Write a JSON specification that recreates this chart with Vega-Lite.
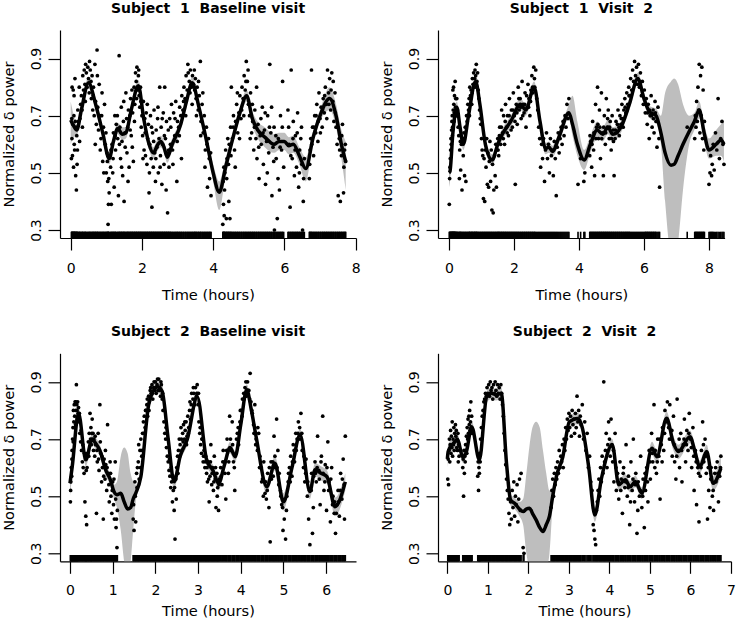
{
"$schema":"https://vega.github.io/schema/vega-lite/v6.json",
"padding":{"left":1,"top":2,"right":0,"bottom":0},
"config":{
"view":{"stroke":null},
"font":"DejaVu Sans",
"axis":{"grid":false,"domainColor":"#000","tickColor":"#000","labelColor":"#000","titleColor":"#000","labelFont":"DejaVu Sans","titleFont":"DejaVu Sans","labelFontSize":14,"titleFontSize":14.6,"titleFontWeight":"normal","tickSize":12,"domainWidth":1.2,"tickWidth":1.2,"labelOverlap":false,"labelFlush":false},
"axisX":{"labelPadding":22,"labelBaseline":"alphabetic","titleY":61,"titleBaseline":"alphabetic"},
"axisY":{"labelAngle":-90,"labelAlign":"center","labelBaseline":"alphabetic","labelPadding":7.3,"titleAngle":-90,"titleX":-46.5,"titleY":104,"titleAlign":"center","titleBaseline":"alphabetic"},
"title":{"font":"DejaVu Sans","fontSize":14,"fontWeight":"bold","color":"#000","offset":14,"baseline":"alphabetic"}
},
"datasets":{
"p1":[{"t":0.02,"v":0.55},{"t":0.03,"v":0.69},{"t":0.04,"v":0.8},{"t":0.05,"v":0.56},{"t":0.06,"v":0.67},{"t":0.07,"v":0.79},{"t":0.08,"v":0.52},{"t":0.09,"v":0.7},{"t":0.1,"v":0.6},{"t":0.11,"v":0.58},{"t":0.12,"v":0.83},{"t":0.13,"v":0.68},{"t":0.14,"v":0.49},{"t":0.15,"v":0.66},{"t":0.16,"v":0.44},{"t":0.17,"v":0.63},{"t":0.19,"v":0.58},{"t":0.2,"v":0.72},{"t":0.22,"v":0.68},{"t":0.24,"v":0.8},{"t":0.26,"v":0.69},{"t":0.28,"v":0.74},{"t":0.3,"v":0.77},{"t":0.32,"v":0.72},{"t":0.34,"v":0.84},{"t":0.36,"v":0.79},{"t":0.38,"v":0.86},{"t":0.4,"v":0.81},{"t":0.42,"v":0.88},{"t":0.44,"v":0.85},{"t":0.46,"v":0.8},{"t":0.48,"v":0.87},{"t":0.5,"v":0.83},{"t":0.52,"v":0.78},{"t":0.55,"v":0.86},{"t":0.58,"v":0.76},{"t":0.6,"v":0.84},{"t":0.62,"v":0.72},{"t":0.64,"v":0.8},{"t":0.66,"v":0.7},{"t":0.68,"v":0.88},{"t":0.7,"v":0.75},{"t":0.72,"v":0.67},{"t":0.74,"v":0.93},{"t":0.76,"v":0.73},{"t":0.78,"v":0.65},{"t":0.8,"v":0.81},{"t":0.82,"v":0.7},{"t":0.85,"v":0.62},{"t":0.88,"v":0.78},{"t":0.9,"v":0.54},{"t":0.92,"v":0.66},{"t":0.95,"v":0.74},{"t":0.97,"v":0.6},{"t":1.0,"v":0.5},{"t":1.02,"v":0.57},{"t":1.04,"v":0.47},{"t":1.05,"v":0.32},{"t":1.06,"v":0.39},{"t":1.08,"v":0.43},{"t":1.12,"v":0.52},{"t":1.14,"v":0.39},{"t":1.16,"v":0.6},{"t":1.18,"v":0.5},{"t":1.2,"v":0.64},{"t":1.22,"v":0.45},{"t":1.24,"v":0.7},{"t":1.26,"v":0.58},{"t":1.28,"v":0.67},{"t":1.32,"v":0.62},{"t":1.34,"v":0.42},{"t":1.36,"v":0.91},{"t":1.38,"v":0.66},{"t":1.4,"v":0.55},{"t":1.42,"v":0.73},{"t":1.44,"v":0.61},{"t":1.46,"v":0.49},{"t":1.48,"v":0.68},{"t":1.5,"v":0.4},{"t":1.52,"v":0.64},{"t":1.55,"v":0.78},{"t":1.58,"v":0.57},{"t":1.6,"v":0.66},{"t":1.62,"v":0.72},{"t":1.64,"v":0.52},{"t":1.66,"v":0.7},{"t":1.68,"v":0.76},{"t":1.7,"v":0.63},{"t":1.72,"v":0.79},{"t":1.74,"v":0.71},{"t":1.76,"v":0.54},{"t":1.78,"v":0.8},{"t":1.8,"v":0.74},{"t":1.82,"v":0.85},{"t":1.84,"v":0.82},{"t":1.86,"v":0.87},{"t":1.88,"v":0.79},{"t":1.9,"v":0.84},{"t":1.92,"v":0.77},{"t":1.94,"v":0.73},{"t":1.96,"v":0.8},{"t":1.98,"v":0.66},{"t":2.0,"v":0.7},{"t":2.02,"v":0.63},{"t":2.04,"v":0.75},{"t":2.06,"v":0.58},{"t":2.08,"v":0.69},{"t":2.1,"v":0.56},{"t":2.12,"v":0.71},{"t":2.14,"v":0.53},{"t":2.16,"v":0.62},{"t":2.18,"v":0.67},{"t":2.2,"v":0.43},{"t":2.22,"v":0.6},{"t":2.24,"v":0.7},{"t":2.26,"v":0.55},{"t":2.28,"v":0.38},{"t":2.3,"v":0.64},{"t":2.32,"v":0.52},{"t":2.34,"v":0.72},{"t":2.36,"v":0.57},{"t":2.38,"v":0.47},{"t":2.4,"v":0.65},{"t":2.42,"v":0.59},{"t":2.44,"v":0.69},{"t":2.46,"v":0.5},{"t":2.48,"v":0.62},{"t":2.5,"v":0.8},{"t":2.52,"v":0.56},{"t":2.54,"v":0.66},{"t":2.56,"v":0.46},{"t":2.58,"v":0.6},{"t":2.6,"v":0.71},{"t":2.62,"v":0.53},{"t":2.64,"v":0.8},{"t":2.66,"v":0.62},{"t":2.68,"v":0.44},{"t":2.7,"v":0.57},{"t":2.72,"v":0.36},{"t":2.74,"v":0.65},{"t":2.76,"v":0.52},{"t":2.78,"v":0.69},{"t":2.8,"v":0.6},{"t":2.83,"v":0.74},{"t":2.86,"v":0.58},{"t":2.89,"v":0.71},{"t":2.92,"v":0.63},{"t":2.95,"v":0.75},{"t":2.98,"v":0.47},{"t":3.0,"v":0.68},{"t":3.03,"v":0.66},{"t":3.06,"v":0.73},{"t":3.09,"v":0.7},{"t":3.12,"v":0.77},{"t":3.15,"v":0.72},{"t":3.18,"v":0.8},{"t":3.21,"v":0.76},{"t":3.24,"v":0.84},{"t":3.27,"v":0.79},{"t":3.3,"v":0.85},{"t":3.33,"v":0.82},{"t":3.36,"v":0.86},{"t":3.39,"v":0.8},{"t":3.42,"v":0.84},{"t":3.45,"v":0.81},{"t":3.48,"v":0.79},{"t":3.5,"v":0.83},{"t":3.52,"v":0.76},{"t":3.55,"v":0.8},{"t":3.58,"v":0.72},{"t":3.61,"v":0.77},{"t":3.64,"v":0.89},{"t":3.66,"v":0.68},{"t":3.69,"v":0.74},{"t":3.72,"v":0.64},{"t":3.75,"v":0.7},{"t":3.78,"v":0.58},{"t":3.81,"v":0.66},{"t":3.84,"v":0.45},{"t":3.87,"v":0.62},{"t":3.9,"v":0.48},{"t":3.93,"v":0.57},{"t":4.27,"v":0.32},{"t":4.28,"v":0.47},{"t":4.29,"v":0.39},{"t":4.3,"v":0.52},{"t":4.31,"v":0.35},{"t":4.33,"v":0.5},{"t":4.35,"v":0.58},{"t":4.37,"v":0.34},{"t":4.39,"v":0.55},{"t":4.41,"v":0.62},{"t":4.43,"v":0.53},{"t":4.45,"v":0.6},{"t":4.47,"v":0.34},{"t":4.49,"v":0.66},{"t":4.51,"v":0.8},{"t":4.54,"v":0.62},{"t":4.57,"v":0.7},{"t":4.6,"v":0.58},{"t":4.63,"v":0.68},{"t":4.66,"v":0.74},{"t":4.69,"v":0.64},{"t":4.72,"v":0.71},{"t":4.75,"v":0.77},{"t":4.78,"v":0.69},{"t":4.81,"v":0.8},{"t":4.84,"v":0.76},{"t":4.87,"v":0.84},{"t":4.9,"v":0.79},{"t":4.93,"v":0.89},{"t":4.96,"v":0.82},{"t":4.99,"v":0.74},{"t":5.02,"v":0.7},{"t":5.05,"v":0.78},{"t":5.08,"v":0.64},{"t":5.11,"v":0.68},{"t":5.14,"v":0.58},{"t":5.17,"v":0.72},{"t":5.2,"v":0.62},{"t":5.23,"v":0.55},{"t":5.26,"v":0.67},{"t":5.29,"v":0.48},{"t":5.32,"v":0.63},{"t":5.35,"v":0.6},{"t":5.38,"v":0.73},{"t":5.41,"v":0.53},{"t":5.44,"v":0.65},{"t":5.47,"v":0.46},{"t":5.5,"v":0.61},{"t":5.53,"v":0.7},{"t":5.56,"v":0.57},{"t":5.59,"v":0.88},{"t":5.62,"v":0.64},{"t":5.65,"v":0.42},{"t":5.68,"v":0.59},{"t":5.71,"v":0.66},{"t":5.72,"v":0.3},{"t":5.77,"v":0.55},{"t":5.8,"v":0.34},{"t":5.83,"v":0.62},{"t":5.86,"v":0.44},{"t":5.89,"v":0.7},{"t":5.92,"v":0.58},{"t":5.95,"v":0.82},{"t":5.98,"v":0.52},{"t":6.1,"v":0.72},{"t":6.13,"v":0.6},{"t":6.16,"v":0.38},{"t":6.19,"v":0.86},{"t":6.22,"v":0.55},{"t":6.25,"v":0.68},{"t":6.28,"v":0.49},{"t":6.31,"v":0.63},{"t":6.34,"v":0.52},{"t":6.37,"v":0.71},{"t":6.4,"v":0.45},{"t":6.43,"v":0.58},{"t":6.46,"v":0.62},{"t":6.49,"v":0.53},{"t":6.51,"v":0.3},{"t":6.53,"v":0.4},{"t":6.56,"v":0.55},{"t":6.7,"v":0.48},{"t":6.72,"v":0.58},{"t":6.74,"v":0.62},{"t":6.76,"v":0.86},{"t":6.79,"v":0.66},{"t":6.82,"v":0.56},{"t":6.85,"v":0.7},{"t":6.88,"v":0.64},{"t":6.91,"v":0.74},{"t":6.94,"v":0.61},{"t":6.97,"v":0.78},{"t":7.0,"v":0.69},{"t":7.03,"v":0.73},{"t":7.06,"v":0.66},{"t":7.09,"v":0.76},{"t":7.12,"v":0.71},{"t":7.15,"v":0.8},{"t":7.18,"v":0.74},{"t":7.21,"v":0.86},{"t":7.24,"v":0.78},{"t":7.27,"v":0.83},{"t":7.3,"v":0.72},{"t":7.33,"v":0.85},{"t":7.36,"v":0.75},{"t":7.39,"v":0.68},{"t":7.42,"v":0.78},{"t":7.45,"v":0.66},{"t":7.48,"v":0.6},{"t":7.51,"v":0.42},{"t":7.54,"v":0.62},{"t":7.57,"v":0.4},{"t":7.6,"v":0.56},{"t":7.63,"v":0.67},{"t":7.66,"v":0.43},{"t":7.69,"v":0.58},{"t":7.72,"v":0.54},{"t":0.035,"v":0.62},{"t":0.095,"v":0.77},{"t":0.18,"v":0.53},{"t":0.25,"v":0.61},{"t":0.33,"v":0.66},{"t":0.41,"v":0.75},{"t":0.53,"v":0.89},{"t":0.57,"v":0.82},{"t":0.63,"v":0.77},{"t":0.69,"v":0.6},{"t":0.75,"v":0.84},{"t":0.83,"v":0.58},{"t":0.87,"v":0.7},{"t":0.93,"v":0.5},{"t":0.99,"v":0.64},{"t":1.03,"v":0.54},{"t":1.07,"v":0.48},{"t":1.13,"v":0.58},{"t":1.19,"v":0.55},{"t":1.25,"v":0.63},{"t":1.31,"v":0.7},{"t":1.37,"v":0.6},{"t":1.43,"v":0.52},{"t":1.49,"v":0.75},{"t":1.53,"v":0.59},{"t":1.57,"v":0.69},{"t":1.61,"v":0.47},{"t":1.67,"v":0.65},{"t":1.73,"v":0.59},{"t":1.79,"v":0.68},{"t":1.85,"v":0.76},{"t":1.91,"v":0.86},{"t":1.97,"v":0.75},{"t":2.03,"v":0.55},{"t":2.09,"v":0.64},{"t":2.15,"v":0.74},{"t":2.21,"v":0.5},{"t":2.27,"v":0.66},{"t":2.33,"v":0.61},{"t":2.39,"v":0.55},{"t":2.45,"v":0.73},{"t":2.51,"v":0.52},{"t":2.57,"v":0.69},{"t":2.63,"v":0.63},{"t":2.69,"v":0.68},{"t":2.75,"v":0.58},{"t":2.81,"v":0.66},{"t":2.87,"v":0.53},{"t":2.93,"v":0.69},{"t":2.99,"v":0.61},{"t":3.05,"v":0.63},{"t":3.11,"v":0.55},{"t":3.17,"v":0.75},{"t":3.23,"v":0.7},{"t":3.29,"v":0.88},{"t":3.35,"v":0.78},{"t":3.41,"v":0.74},{"t":3.47,"v":0.86},{"t":3.53,"v":0.7},{"t":3.59,"v":0.82},{"t":3.65,"v":0.63},{"t":3.71,"v":0.78},{"t":3.77,"v":0.52},{"t":3.83,"v":0.6},{"t":3.89,"v":0.55},{"t":3.94,"v":0.42},{"t":4.32,"v":0.44},{"t":4.38,"v":0.48},{"t":4.44,"v":0.4},{"t":4.5,"v":0.56},{"t":4.56,"v":0.66},{"t":4.62,"v":0.52},{"t":4.68,"v":0.78},{"t":4.74,"v":0.62},{"t":4.8,"v":0.72},{"t":4.86,"v":0.7},{"t":4.92,"v":0.82},{"t":4.98,"v":0.86},{"t":5.04,"v":0.62},{"t":5.1,"v":0.74},{"t":5.16,"v":0.66},{"t":5.22,"v":0.8},{"t":5.28,"v":0.59},{"t":5.34,"v":0.69},{"t":5.4,"v":0.64},{"t":5.46,"v":0.71},{"t":5.52,"v":0.5},{"t":5.58,"v":0.66},{"t":5.64,"v":0.73},{"t":5.7,"v":0.54},{"t":5.76,"v":0.63},{"t":5.82,"v":0.48},{"t":5.88,"v":0.59},{"t":5.94,"v":0.66},{"t":6.12,"v":0.66},{"t":6.18,"v":0.56},{"t":6.24,"v":0.62},{"t":6.3,"v":0.58},{"t":6.36,"v":0.64},{"t":6.42,"v":0.5},{"t":6.48,"v":0.66},{"t":6.54,"v":0.48},{"t":6.71,"v":0.53},{"t":6.77,"v":0.6},{"t":6.83,"v":0.66},{"t":6.89,"v":0.7},{"t":6.95,"v":0.68},{"t":7.01,"v":0.64},{"t":7.07,"v":0.72},{"t":7.13,"v":0.77},{"t":7.19,"v":0.69},{"t":7.25,"v":0.74},{"t":7.31,"v":0.79},{"t":7.37,"v":0.82},{"t":7.43,"v":0.71},{"t":7.49,"v":0.66},{"t":7.55,"v":0.58},{"t":7.61,"v":0.63},{"t":7.67,"v":0.52},{"t":7.71,"v":0.6}],
"c1":[{"t":0.0,"m":0.685,"lo":0.6,"hi":0.75},{"t":0.08,"m":0.665,"lo":0.625,"hi":0.705},{"t":0.17,"m":0.65,"lo":0.63,"hi":0.67},{"t":0.3,"m":0.72,"lo":0.7,"hi":0.74},{"t":0.5,"m":0.815,"lo":0.795,"hi":0.835},{"t":0.7,"m":0.74,"lo":0.72,"hi":0.76},{"t":0.9,"m":0.64,"lo":0.62,"hi":0.66},{"t":1.08,"m":0.55,"lo":0.53,"hi":0.57},{"t":1.2,"m":0.61,"lo":0.59,"hi":0.63},{"t":1.32,"m":0.655,"lo":0.635,"hi":0.675},{"t":1.45,"m":0.635,"lo":0.615,"hi":0.66},{"t":1.55,"m":0.64,"lo":0.62,"hi":0.66},{"t":1.7,"m":0.72,"lo":0.7,"hi":0.74},{"t":1.9,"m":0.805,"lo":0.785,"hi":0.825},{"t":2.05,"m":0.69,"lo":0.67,"hi":0.71},{"t":2.2,"m":0.6,"lo":0.58,"hi":0.625},{"t":2.32,"m":0.57,"lo":0.55,"hi":0.59},{"t":2.45,"m":0.6,"lo":0.58,"hi":0.62},{"t":2.53,"m":0.61,"lo":0.59,"hi":0.63},{"t":2.62,"m":0.59,"lo":0.57,"hi":0.61},{"t":2.71,"m":0.555,"lo":0.535,"hi":0.58},{"t":2.85,"m":0.6,"lo":0.58,"hi":0.62},{"t":3.09,"m":0.67,"lo":0.65,"hi":0.69},{"t":3.25,"m":0.75,"lo":0.73,"hi":0.77},{"t":3.41,"m":0.815,"lo":0.795,"hi":0.835},{"t":3.6,"m":0.73,"lo":0.71,"hi":0.75},{"t":3.8,"m":0.62,"lo":0.6,"hi":0.64},{"t":4.0,"m":0.5,"lo":0.47,"hi":0.53},{"t":4.17,"m":0.432,"lo":0.37,"hi":0.47},{"t":4.35,"m":0.52,"lo":0.49,"hi":0.55},{"t":4.55,"m":0.62,"lo":0.6,"hi":0.64},{"t":4.75,"m":0.71,"lo":0.69,"hi":0.73},{"t":4.94,"m":0.77,"lo":0.75,"hi":0.79},{"t":5.1,"m":0.69,"lo":0.665,"hi":0.715},{"t":5.25,"m":0.65,"lo":0.62,"hi":0.68},{"t":5.45,"m":0.625,"lo":0.59,"hi":0.66},{"t":5.71,"m":0.6,"lo":0.57,"hi":0.635},{"t":5.85,"m":0.61,"lo":0.58,"hi":0.64},{"t":6.0,"m":0.61,"lo":0.58,"hi":0.64},{"t":6.12,"m":0.595,"lo":0.565,"hi":0.625},{"t":6.25,"m":0.6,"lo":0.57,"hi":0.63},{"t":6.42,"m":0.56,"lo":0.53,"hi":0.59},{"t":6.6,"m":0.515,"lo":0.47,"hi":0.555},{"t":6.8,"m":0.62,"lo":0.6,"hi":0.645},{"t":7.0,"m":0.7,"lo":0.68,"hi":0.72},{"t":7.27,"m":0.76,"lo":0.72,"hi":0.8},{"t":7.45,"m":0.7,"lo":0.66,"hi":0.74},{"t":7.6,"m":0.6,"lo":0.55,"hi":0.65},{"t":7.72,"m":0.54,"lo":0.44,"hi":0.61}],
"p2":[{"t":0.01,"v":0.39},{"t":0.02,"v":0.48},{"t":0.03,"v":0.52},{"t":0.04,"v":0.55},{"t":0.05,"v":0.58},{"t":0.06,"v":0.62},{"t":0.07,"v":0.6},{"t":0.08,"v":0.65},{"t":0.09,"v":0.68},{"t":0.1,"v":0.7},{"t":0.11,"v":0.66},{"t":0.12,"v":0.79},{"t":0.13,"v":0.72},{"t":0.14,"v":0.8},{"t":0.15,"v":0.74},{"t":0.16,"v":0.71},{"t":0.17,"v":0.77},{"t":0.18,"v":0.7},{"t":0.19,"v":0.82},{"t":0.2,"v":0.73},{"t":0.22,"v":0.7},{"t":0.24,"v":0.76},{"t":0.26,"v":0.72},{"t":0.28,"v":0.66},{"t":0.3,"v":0.63},{"t":0.32,"v":0.48},{"t":0.33,"v":0.58},{"t":0.35,"v":0.61},{"t":0.36,"v":0.51},{"t":0.38,"v":0.6},{"t":0.4,"v":0.44},{"t":0.42,"v":0.62},{"t":0.44,"v":0.56},{"t":0.46,"v":0.64},{"t":0.48,"v":0.49},{"t":0.5,"v":0.66},{"t":0.52,"v":0.47},{"t":0.54,"v":0.7},{"t":0.56,"v":0.68},{"t":0.58,"v":0.74},{"t":0.6,"v":0.72},{"t":0.62,"v":0.76},{"t":0.64,"v":0.8},{"t":0.66,"v":0.77},{"t":0.68,"v":0.79},{"t":0.7,"v":0.74},{"t":0.72,"v":0.83},{"t":0.74,"v":0.81},{"t":0.76,"v":0.85},{"t":0.78,"v":0.8},{"t":0.8,"v":0.86},{"t":0.82,"v":0.84},{"t":0.84,"v":0.88},{"t":0.86,"v":0.82},{"t":0.88,"v":0.85},{"t":0.9,"v":0.79},{"t":0.92,"v":0.76},{"t":0.94,"v":0.72},{"t":0.96,"v":0.69},{"t":0.98,"v":0.67},{"t":1.0,"v":0.62},{"t":1.02,"v":0.58},{"t":1.04,"v":0.56},{"t":1.06,"v":0.41},{"t":1.08,"v":0.55},{"t":1.1,"v":0.4},{"t":1.12,"v":0.58},{"t":1.14,"v":0.52},{"t":1.16,"v":0.62},{"t":1.18,"v":0.46},{"t":1.2,"v":0.57},{"t":1.22,"v":0.45},{"t":1.24,"v":0.54},{"t":1.26,"v":0.61},{"t":1.28,"v":0.47},{"t":1.3,"v":0.58},{"t":1.32,"v":0.37},{"t":1.34,"v":0.53},{"t":1.36,"v":0.36},{"t":1.38,"v":0.44},{"t":1.4,"v":0.56},{"t":1.42,"v":0.49},{"t":1.44,"v":0.6},{"t":1.46,"v":0.45},{"t":1.48,"v":0.58},{"t":1.5,"v":0.62},{"t":1.53,"v":0.56},{"t":1.56,"v":0.66},{"t":1.59,"v":0.6},{"t":1.62,"v":0.72},{"t":1.65,"v":0.64},{"t":1.68,"v":0.7},{"t":1.71,"v":0.6},{"t":1.74,"v":0.74},{"t":1.77,"v":0.66},{"t":1.8,"v":0.7},{"t":1.83,"v":0.63},{"t":1.86,"v":0.76},{"t":1.89,"v":0.68},{"t":1.92,"v":0.72},{"t":1.95,"v":0.66},{"t":1.98,"v":0.78},{"t":2.01,"v":0.7},{"t":2.04,"v":0.46},{"t":2.07,"v":0.74},{"t":2.1,"v":0.67},{"t":2.13,"v":0.8},{"t":2.16,"v":0.72},{"t":2.19,"v":0.76},{"t":2.22,"v":0.69},{"t":2.25,"v":0.82},{"t":2.28,"v":0.74},{"t":2.31,"v":0.71},{"t":2.34,"v":0.78},{"t":2.37,"v":0.66},{"t":2.4,"v":0.73},{"t":2.43,"v":0.81},{"t":2.46,"v":0.76},{"t":2.49,"v":0.7},{"t":2.52,"v":0.79},{"t":2.55,"v":0.84},{"t":2.58,"v":0.78},{"t":2.61,"v":0.87},{"t":2.64,"v":0.8},{"t":2.67,"v":0.86},{"t":2.7,"v":0.76},{"t":2.73,"v":0.72},{"t":2.76,"v":0.66},{"t":2.79,"v":0.62},{"t":2.82,"v":0.52},{"t":2.85,"v":0.6},{"t":2.88,"v":0.55},{"t":2.91,"v":0.62},{"t":2.94,"v":0.47},{"t":2.97,"v":0.58},{"t":3.0,"v":0.64},{"t":3.03,"v":0.55},{"t":3.06,"v":0.6},{"t":3.09,"v":0.5},{"t":3.12,"v":0.62},{"t":3.15,"v":0.56},{"t":3.18,"v":0.58},{"t":3.21,"v":0.49},{"t":3.24,"v":0.61},{"t":3.27,"v":0.55},{"t":3.3,"v":0.42},{"t":3.33,"v":0.59},{"t":3.36,"v":0.64},{"t":3.39,"v":0.57},{"t":3.42,"v":0.62},{"t":3.45,"v":0.66},{"t":3.48,"v":0.6},{"t":3.51,"v":0.68},{"t":3.54,"v":0.63},{"t":3.57,"v":0.7},{"t":3.6,"v":0.66},{"t":3.63,"v":0.74},{"t":3.66,"v":0.69},{"t":3.69,"v":0.76},{"t":3.97,"v":0.46},{"t":4.05,"v":0.55},{"t":4.15,"v":0.47},{"t":4.18,"v":0.5},{"t":4.33,"v":0.56},{"t":4.36,"v":0.61},{"t":4.39,"v":0.52},{"t":4.42,"v":0.68},{"t":4.45,"v":0.58},{"t":4.48,"v":0.49},{"t":4.51,"v":0.74},{"t":4.54,"v":0.66},{"t":4.57,"v":0.8},{"t":4.6,"v":0.62},{"t":4.63,"v":0.72},{"t":4.66,"v":0.55},{"t":4.69,"v":0.78},{"t":4.72,"v":0.64},{"t":4.75,"v":0.49},{"t":4.78,"v":0.7},{"t":4.81,"v":0.6},{"t":4.84,"v":0.76},{"t":4.87,"v":0.66},{"t":4.9,"v":0.72},{"t":4.93,"v":0.62},{"t":4.96,"v":0.68},{"t":4.99,"v":0.58},{"t":5.02,"v":0.7},{"t":5.05,"v":0.65},{"t":5.08,"v":0.49},{"t":5.11,"v":0.62},{"t":5.14,"v":0.68},{"t":5.17,"v":0.64},{"t":5.2,"v":0.72},{"t":5.23,"v":0.66},{"t":5.26,"v":0.7},{"t":5.29,"v":0.67},{"t":5.32,"v":0.74},{"t":5.35,"v":0.69},{"t":5.38,"v":0.72},{"t":5.41,"v":0.76},{"t":5.44,"v":0.71},{"t":5.47,"v":0.78},{"t":5.5,"v":0.74},{"t":5.53,"v":0.8},{"t":5.56,"v":0.77},{"t":5.59,"v":0.83},{"t":5.62,"v":0.79},{"t":5.65,"v":0.86},{"t":5.68,"v":0.82},{"t":5.71,"v":0.89},{"t":5.74,"v":0.84},{"t":5.77,"v":0.87},{"t":5.8,"v":0.81},{"t":5.83,"v":0.88},{"t":5.86,"v":0.8},{"t":5.89,"v":0.85},{"t":5.92,"v":0.77},{"t":5.95,"v":0.82},{"t":5.98,"v":0.74},{"t":6.01,"v":0.79},{"t":6.04,"v":0.71},{"t":6.07,"v":0.76},{"t":6.1,"v":0.67},{"t":6.13,"v":0.74},{"t":6.16,"v":0.62},{"t":6.19,"v":0.7},{"t":6.22,"v":0.77},{"t":6.25,"v":0.66},{"t":6.28,"v":0.72},{"t":6.31,"v":0.64},{"t":6.34,"v":0.75},{"t":6.37,"v":0.68},{"t":6.4,"v":0.59},{"t":6.43,"v":0.73},{"t":6.46,"v":0.62},{"t":6.48,"v":0.45},{"t":7.33,"v":0.66},{"t":7.56,"v":0.62},{"t":7.58,"v":0.7},{"t":7.6,"v":0.66},{"t":7.62,"v":0.75},{"t":7.64,"v":0.68},{"t":7.66,"v":0.8},{"t":7.68,"v":0.72},{"t":7.7,"v":0.88},{"t":7.72,"v":0.64},{"t":7.74,"v":0.84},{"t":7.76,"v":0.7},{"t":7.78,"v":0.87},{"t":7.8,"v":0.62},{"t":7.82,"v":0.79},{"t":7.84,"v":0.58},{"t":7.86,"v":0.68},{"t":8.0,"v":0.46},{"t":8.03,"v":0.5},{"t":8.05,"v":0.56},{"t":8.08,"v":0.49},{"t":8.1,"v":0.53},{"t":8.13,"v":0.6},{"t":8.16,"v":0.51},{"t":8.2,"v":0.64},{"t":8.24,"v":0.58},{"t":8.28,"v":0.76},{"t":8.32,"v":0.55},{"t":8.36,"v":0.62},{"t":8.4,"v":0.68},{"t":8.43,"v":0.6},{"t":8.46,"v":0.53},{"t":1.51,"v":0.58},{"t":1.55,"v":0.63},{"t":1.61,"v":0.66},{"t":1.67,"v":0.62},{"t":1.73,"v":0.68},{"t":1.79,"v":0.64},{"t":1.85,"v":0.7},{"t":1.91,"v":0.65},{"t":1.97,"v":0.72},{"t":2.03,"v":0.68},{"t":2.09,"v":0.71},{"t":2.15,"v":0.76},{"t":2.21,"v":0.73},{"t":2.27,"v":0.7},{"t":2.33,"v":0.74},{"t":2.39,"v":0.77},{"t":2.45,"v":0.73},{"t":2.51,"v":0.75},{"t":2.57,"v":0.8},{"t":2.63,"v":0.83},{"t":4.34,"v":0.63},{"t":4.4,"v":0.6},{"t":4.46,"v":0.64},{"t":4.52,"v":0.62},{"t":4.58,"v":0.67},{"t":4.64,"v":0.66},{"t":4.7,"v":0.62},{"t":4.76,"v":0.66},{"t":4.82,"v":0.64},{"t":4.88,"v":0.69},{"t":4.94,"v":0.66},{"t":5.0,"v":0.62},{"t":5.06,"v":0.61},{"t":5.12,"v":0.65},{"t":5.18,"v":0.67},{"t":5.24,"v":0.63},{"t":5.3,"v":0.69},{"t":5.36,"v":0.66},{"t":5.42,"v":0.73},{"t":5.48,"v":0.72},{"t":5.54,"v":0.77},{"t":6.05,"v":0.74},{"t":6.11,"v":0.71},{"t":6.17,"v":0.72},{"t":6.23,"v":0.7},{"t":6.29,"v":0.69},{"t":6.35,"v":0.71},{"t":0.105,"v":0.63},{"t":0.155,"v":0.68},{"t":0.205,"v":0.76},{"t":0.25,"v":0.7},{"t":0.63,"v":0.7},{"t":0.71,"v":0.78},{"t":0.79,"v":0.83},{"t":0.85,"v":0.8}],
"c2":[{"t":0.0,"m":0.5,"lo":0.45,"hi":0.55},{"t":0.03,"m":0.505,"lo":0.47,"hi":0.54},{"t":0.12,"m":0.64,"lo":0.61,"hi":0.67},{"t":0.24,"m":0.73,"lo":0.71,"hi":0.75},{"t":0.34,"m":0.66,"lo":0.64,"hi":0.68},{"t":0.44,"m":0.6,"lo":0.58,"hi":0.62},{"t":0.6,"m":0.7,"lo":0.68,"hi":0.72},{"t":0.82,"m":0.82,"lo":0.8,"hi":0.84},{"t":0.95,"m":0.74,"lo":0.72,"hi":0.76},{"t":1.12,"m":0.6,"lo":0.58,"hi":0.62},{"t":1.33,"m":0.545,"lo":0.525,"hi":0.565},{"t":1.5,"m":0.6,"lo":0.58,"hi":0.62},{"t":1.64,"m":0.635,"lo":0.615,"hi":0.655},{"t":1.9,"m":0.68,"lo":0.66,"hi":0.7},{"t":2.2,"m":0.74,"lo":0.72,"hi":0.76},{"t":2.36,"m":0.72,"lo":0.7,"hi":0.74},{"t":2.62,"m":0.8,"lo":0.78,"hi":0.82},{"t":2.8,"m":0.68,"lo":0.66,"hi":0.7},{"t":2.97,"m":0.585,"lo":0.565,"hi":0.605},{"t":3.08,"m":0.59,"lo":0.57,"hi":0.61},{"t":3.18,"m":0.575,"lo":0.555,"hi":0.595},{"t":3.4,"m":0.63,"lo":0.61,"hi":0.65},{"t":3.69,"m":0.71,"lo":0.69,"hi":0.74},{"t":3.8,"m":0.67,"lo":0.63,"hi":0.77},{"t":3.95,"m":0.6,"lo":0.56,"hi":0.68},{"t":4.16,"m":0.545,"lo":0.51,"hi":0.58},{"t":4.35,"m":0.6,"lo":0.57,"hi":0.63},{"t":4.56,"m":0.65,"lo":0.62,"hi":0.68},{"t":4.73,"m":0.635,"lo":0.61,"hi":0.66},{"t":4.89,"m":0.66,"lo":0.635,"hi":0.685},{"t":5.04,"m":0.635,"lo":0.61,"hi":0.66},{"t":5.29,"m":0.66,"lo":0.64,"hi":0.68},{"t":5.55,"m":0.74,"lo":0.72,"hi":0.76},{"t":5.81,"m":0.83,"lo":0.81,"hi":0.85},{"t":6.0,"m":0.76,"lo":0.74,"hi":0.78},{"t":6.16,"m":0.715,"lo":0.695,"hi":0.735},{"t":6.37,"m":0.7,"lo":0.675,"hi":0.725},{"t":6.52,"m":0.64,"lo":0.6,"hi":0.7},{"t":6.65,"m":0.57,"lo":0.4,"hi":0.78},{"t":6.83,"m":0.527,"lo":0.22,"hi":0.82},{"t":6.93,"m":0.53,"lo":0.22,"hi":0.83},{"t":7.05,"m":0.56,"lo":0.26,"hi":0.81},{"t":7.2,"m":0.6,"lo":0.44,"hi":0.74},{"t":7.39,"m":0.645,"lo":0.6,"hi":0.7},{"t":7.55,"m":0.68,"lo":0.65,"hi":0.71},{"t":7.7,"m":0.72,"lo":0.69,"hi":0.75},{"t":7.85,"m":0.64,"lo":0.61,"hi":0.67},{"t":8.0,"m":0.58,"lo":0.55,"hi":0.62},{"t":8.22,"m":0.6,"lo":0.56,"hi":0.65},{"t":8.37,"m":0.615,"lo":0.56,"hi":0.67},{"t":8.46,"m":0.6,"lo":0.54,"hi":0.68}],
"p3":[{"t":0.01,"v":0.48},{"t":0.02,"v":0.55},{"t":0.03,"v":0.6},{"t":0.04,"v":0.57},{"t":0.05,"v":0.66},{"t":0.06,"v":0.7},{"t":0.07,"v":0.74},{"t":0.08,"v":0.8},{"t":0.09,"v":0.76},{"t":0.1,"v":0.82},{"t":0.11,"v":0.78},{"t":0.12,"v":0.83},{"t":0.13,"v":0.75},{"t":0.14,"v":0.8},{"t":0.15,"v":0.89},{"t":0.16,"v":0.82},{"t":0.17,"v":0.77},{"t":0.18,"v":0.83},{"t":0.19,"v":0.79},{"t":0.21,"v":0.76},{"t":0.23,"v":0.72},{"t":0.25,"v":0.69},{"t":0.27,"v":0.66},{"t":0.29,"v":0.62},{"t":0.31,"v":0.6},{"t":0.33,"v":0.58},{"t":0.35,"v":0.48},{"t":0.36,"v":0.63},{"t":0.37,"v":0.43},{"t":0.38,"v":0.59},{"t":0.39,"v":0.4},{"t":0.41,"v":0.65},{"t":0.43,"v":0.69},{"t":0.45,"v":0.72},{"t":0.47,"v":0.79},{"t":0.49,"v":0.74},{"t":0.5,"v":0.68},{"t":0.52,"v":0.77},{"t":0.54,"v":0.72},{"t":0.56,"v":0.7},{"t":0.58,"v":0.64},{"t":0.6,"v":0.68},{"t":0.62,"v":0.44},{"t":0.64,"v":0.62},{"t":0.66,"v":0.72},{"t":0.68,"v":0.59},{"t":0.7,"v":0.82},{"t":0.72,"v":0.65},{"t":0.74,"v":0.55},{"t":0.76,"v":0.6},{"t":0.78,"v":0.42},{"t":0.8,"v":0.63},{"t":0.82,"v":0.56},{"t":0.84,"v":0.61},{"t":0.86,"v":0.52},{"t":0.88,"v":0.75},{"t":0.9,"v":0.58},{"t":0.92,"v":0.48},{"t":0.94,"v":0.62},{"t":0.96,"v":0.5},{"t":0.98,"v":0.44},{"t":1.0,"v":0.55},{"t":1.02,"v":0.47},{"t":1.04,"v":0.42},{"t":1.06,"v":0.62},{"t":1.08,"v":0.39},{"t":1.1,"v":0.32},{"t":1.11,"v":0.45},{"t":1.48,"v":0.42},{"t":1.5,"v":0.38},{"t":1.52,"v":0.55},{"t":1.54,"v":0.41},{"t":1.56,"v":0.58},{"t":1.58,"v":0.6},{"t":1.6,"v":0.62},{"t":1.62,"v":0.56},{"t":1.64,"v":0.66},{"t":1.66,"v":0.7},{"t":1.68,"v":0.64},{"t":1.7,"v":0.72},{"t":1.72,"v":0.76},{"t":1.74,"v":0.78},{"t":1.76,"v":0.74},{"t":1.78,"v":0.8},{"t":1.8,"v":0.82},{"t":1.82,"v":0.78},{"t":1.84,"v":0.85},{"t":1.86,"v":0.83},{"t":1.88,"v":0.87},{"t":1.9,"v":0.86},{"t":1.92,"v":0.89},{"t":1.94,"v":0.84},{"t":1.96,"v":0.88},{"t":1.98,"v":0.87},{"t":2.0,"v":0.9},{"t":2.02,"v":0.86},{"t":2.04,"v":0.89},{"t":2.06,"v":0.87},{"t":2.08,"v":0.91},{"t":2.1,"v":0.88},{"t":2.12,"v":0.85},{"t":2.14,"v":0.89},{"t":2.16,"v":0.84},{"t":2.18,"v":0.8},{"t":2.2,"v":0.76},{"t":2.22,"v":0.72},{"t":2.24,"v":0.7},{"t":2.26,"v":0.67},{"t":2.28,"v":0.64},{"t":2.3,"v":0.62},{"t":2.32,"v":0.59},{"t":2.34,"v":0.57},{"t":2.36,"v":0.53},{"t":2.38,"v":0.55},{"t":2.4,"v":0.48},{"t":2.42,"v":0.52},{"t":2.44,"v":0.45},{"t":2.46,"v":0.35},{"t":2.48,"v":0.56},{"t":2.5,"v":0.6},{"t":2.52,"v":0.64},{"t":2.54,"v":0.66},{"t":2.56,"v":0.7},{"t":2.58,"v":0.68},{"t":2.6,"v":0.74},{"t":2.62,"v":0.66},{"t":2.64,"v":0.72},{"t":2.66,"v":0.75},{"t":2.68,"v":0.7},{"t":2.7,"v":0.73},{"t":2.72,"v":0.76},{"t":2.74,"v":0.71},{"t":2.76,"v":0.78},{"t":2.78,"v":0.74},{"t":2.8,"v":0.8},{"t":2.82,"v":0.77},{"t":2.84,"v":0.82},{"t":2.86,"v":0.8},{"t":2.88,"v":0.84},{"t":2.9,"v":0.86},{"t":2.92,"v":0.82},{"t":2.94,"v":0.88},{"t":2.96,"v":0.85},{"t":2.98,"v":0.89},{"t":3.0,"v":0.82},{"t":3.02,"v":0.76},{"t":3.04,"v":0.72},{"t":3.06,"v":0.68},{"t":3.08,"v":0.65},{"t":3.1,"v":0.7},{"t":3.12,"v":0.62},{"t":3.14,"v":0.66},{"t":3.16,"v":0.6},{"t":3.18,"v":0.64},{"t":3.2,"v":0.58},{"t":3.22,"v":0.55},{"t":3.24,"v":0.62},{"t":3.26,"v":0.48},{"t":3.28,"v":0.57},{"t":3.3,"v":0.68},{"t":3.32,"v":0.54},{"t":3.34,"v":0.6},{"t":3.36,"v":0.52},{"t":3.38,"v":0.64},{"t":3.4,"v":0.56},{"t":3.42,"v":0.46},{"t":3.44,"v":0.58},{"t":3.46,"v":0.53},{"t":3.48,"v":0.45},{"t":3.5,"v":0.56},{"t":3.53,"v":0.6},{"t":3.56,"v":0.54},{"t":3.59,"v":0.66},{"t":3.62,"v":0.62},{"t":3.65,"v":0.49},{"t":3.68,"v":0.7},{"t":3.71,"v":0.58},{"t":3.74,"v":0.78},{"t":3.77,"v":0.66},{"t":3.8,"v":0.76},{"t":3.83,"v":0.62},{"t":3.86,"v":0.52},{"t":3.89,"v":0.65},{"t":3.92,"v":0.72},{"t":3.95,"v":0.68},{"t":3.98,"v":0.76},{"t":4.01,"v":0.8},{"t":4.04,"v":0.84},{"t":4.07,"v":0.86},{"t":4.1,"v":0.88},{"t":4.13,"v":0.85},{"t":4.16,"v":0.9},{"t":4.19,"v":0.87},{"t":4.22,"v":0.93},{"t":4.24,"v":0.83},{"t":4.27,"v":0.79},{"t":4.3,"v":0.75},{"t":4.33,"v":0.82},{"t":4.36,"v":0.7},{"t":4.39,"v":0.66},{"t":4.42,"v":0.72},{"t":4.45,"v":0.64},{"t":4.48,"v":0.6},{"t":4.51,"v":0.56},{"t":4.54,"v":0.62},{"t":4.57,"v":0.51},{"t":4.6,"v":0.49},{"t":4.63,"v":0.58},{"t":4.66,"v":0.46},{"t":4.69,"v":0.34},{"t":4.72,"v":0.56},{"t":4.75,"v":0.62},{"t":4.78,"v":0.71},{"t":4.81,"v":0.6},{"t":4.84,"v":0.77},{"t":4.87,"v":0.66},{"t":4.9,"v":0.58},{"t":4.93,"v":0.52},{"t":4.96,"v":0.47},{"t":4.99,"v":0.38},{"t":5.02,"v":0.42},{"t":5.05,"v":0.35},{"t":5.08,"v":0.5},{"t":5.11,"v":0.55},{"t":5.14,"v":0.6},{"t":5.17,"v":0.64},{"t":5.2,"v":0.57},{"t":5.23,"v":0.68},{"t":5.26,"v":0.62},{"t":5.29,"v":0.72},{"t":5.32,"v":0.7},{"t":5.35,"v":0.76},{"t":5.38,"v":0.74},{"t":5.41,"v":0.79},{"t":5.44,"v":0.66},{"t":5.47,"v":0.6},{"t":5.5,"v":0.55},{"t":5.53,"v":0.63},{"t":5.56,"v":0.5},{"t":5.59,"v":0.42},{"t":5.62,"v":0.33},{"t":5.65,"v":0.52},{"t":5.68,"v":0.37},{"t":5.71,"v":0.57},{"t":5.74,"v":0.62},{"t":5.77,"v":0.55},{"t":5.8,"v":0.71},{"t":5.83,"v":0.59},{"t":5.86,"v":0.47},{"t":5.89,"v":0.64},{"t":5.92,"v":0.78},{"t":5.95,"v":0.52},{"t":5.98,"v":0.61},{"t":6.01,"v":0.45},{"t":6.04,"v":0.69},{"t":6.07,"v":0.55},{"t":6.1,"v":0.41},{"t":6.13,"v":0.6},{"t":6.16,"v":0.5},{"t":6.19,"v":0.44},{"t":6.22,"v":0.37},{"t":6.25,"v":0.47},{"t":6.28,"v":0.52},{"t":6.31,"v":0.43},{"t":6.34,"v":0.58},{"t":6.37,"v":0.49},{"t":6.4,"v":0.63},{"t":6.43,"v":0.42},{"t":6.45,"v":0.71},{"t":0.015,"v":0.52},{"t":0.045,"v":0.63},{"t":0.075,"v":0.69},{"t":0.105,"v":0.74},{"t":0.135,"v":0.83},{"t":0.165,"v":0.8},{"t":0.2,"v":0.81},{"t":0.22,"v":0.79},{"t":0.26,"v":0.73},{"t":0.3,"v":0.68},{"t":0.34,"v":0.65},{"t":0.4,"v":0.6},{"t":0.44,"v":0.64},{"t":0.48,"v":0.7},{"t":0.51,"v":0.72},{"t":0.55,"v":0.66},{"t":0.59,"v":0.71},{"t":0.63,"v":0.66},{"t":0.67,"v":0.63},{"t":0.71,"v":0.69},{"t":0.75,"v":0.64},{"t":0.79,"v":0.57},{"t":0.83,"v":0.66},{"t":0.87,"v":0.6},{"t":0.91,"v":0.54},{"t":0.95,"v":0.58},{"t":0.99,"v":0.52},{"t":1.03,"v":0.56},{"t":1.07,"v":0.49},{"t":1.09,"v":0.42},{"t":1.49,"v":0.47},{"t":1.53,"v":0.5},{"t":1.57,"v":0.53},{"t":1.61,"v":0.68},{"t":1.65,"v":0.6},{"t":1.69,"v":0.66},{"t":1.73,"v":0.72},{"t":1.77,"v":0.8},{"t":1.81,"v":0.84},{"t":1.85,"v":0.8},{"t":1.89,"v":0.88},{"t":1.93,"v":0.86},{"t":1.97,"v":0.9},{"t":2.01,"v":0.88},{"t":2.05,"v":0.91},{"t":2.09,"v":0.87},{"t":2.13,"v":0.9},{"t":2.17,"v":0.86},{"t":2.21,"v":0.8},{"t":2.25,"v":0.74},{"t":2.29,"v":0.7},{"t":2.33,"v":0.63},{"t":2.37,"v":0.6},{"t":2.41,"v":0.57},{"t":2.45,"v":0.53},{"t":2.49,"v":0.49},{"t":2.53,"v":0.58},{"t":2.57,"v":0.64},{"t":2.61,"v":0.7},{"t":2.65,"v":0.69},{"t":2.69,"v":0.76},{"t":2.73,"v":0.68},{"t":2.77,"v":0.72},{"t":2.81,"v":0.83},{"t":2.85,"v":0.86},{"t":2.89,"v":0.88},{"t":2.93,"v":0.84},{"t":2.97,"v":0.86},{"t":3.01,"v":0.86},{"t":3.05,"v":0.74},{"t":3.09,"v":0.7},{"t":3.13,"v":0.64},{"t":3.17,"v":0.62},{"t":3.21,"v":0.6},{"t":3.25,"v":0.56},{"t":3.29,"v":0.62},{"t":3.33,"v":0.58},{"t":3.37,"v":0.55},{"t":3.41,"v":0.6},{"t":3.45,"v":0.5},{"t":3.49,"v":0.54},{"t":3.54,"v":0.57},{"t":3.58,"v":0.62},{"t":3.63,"v":0.58},{"t":3.67,"v":0.66},{"t":3.72,"v":0.62},{"t":3.76,"v":0.7},{"t":3.81,"v":0.68},{"t":3.85,"v":0.6},{"t":3.9,"v":0.7},{"t":3.94,"v":0.74},{"t":3.99,"v":0.8},{"t":4.03,"v":0.78},{"t":4.08,"v":0.84},{"t":4.12,"v":0.9},{"t":4.17,"v":0.87},{"t":4.21,"v":0.84},{"t":4.26,"v":0.8},{"t":4.31,"v":0.72},{"t":4.35,"v":0.68},{"t":4.4,"v":0.74},{"t":4.44,"v":0.6},{"t":4.49,"v":0.55},{"t":4.53,"v":0.5},{"t":4.58,"v":0.55},{"t":4.62,"v":0.52},{"t":4.67,"v":0.6},{"t":4.71,"v":0.62},{"t":4.76,"v":0.57},{"t":4.8,"v":0.64},{"t":4.85,"v":0.6},{"t":4.89,"v":0.54},{"t":4.94,"v":0.5},{"t":4.98,"v":0.46},{"t":5.03,"v":0.49},{"t":5.07,"v":0.45},{"t":5.12,"v":0.58},{"t":5.16,"v":0.55},{"t":5.21,"v":0.62},{"t":5.25,"v":0.66},{"t":5.3,"v":0.66},{"t":5.34,"v":0.72},{"t":5.39,"v":0.7},{"t":5.43,"v":0.72},{"t":5.48,"v":0.64},{"t":5.52,"v":0.58},{"t":5.57,"v":0.55},{"t":5.61,"v":0.52},{"t":5.66,"v":0.58},{"t":5.7,"v":0.46},{"t":5.75,"v":0.58},{"t":5.79,"v":0.6},{"t":5.84,"v":0.56},{"t":5.88,"v":0.62},{"t":5.93,"v":0.58},{"t":5.97,"v":0.55},{"t":6.02,"v":0.6},{"t":6.06,"v":0.52},{"t":6.11,"v":0.56},{"t":6.15,"v":0.47},{"t":6.2,"v":0.48},{"t":6.24,"v":0.44},{"t":6.29,"v":0.48},{"t":6.33,"v":0.52},{"t":6.38,"v":0.56},{"t":6.42,"v":0.54}],
"c3":[{"t":0.0,"m":0.545,"lo":0.5,"hi":0.59},{"t":0.05,"m":0.6,"lo":0.57,"hi":0.63},{"t":0.2,"m":0.79,"lo":0.77,"hi":0.81},{"t":0.37,"m":0.627,"lo":0.605,"hi":0.65},{"t":0.52,"m":0.7,"lo":0.68,"hi":0.72},{"t":0.6,"m":0.685,"lo":0.665,"hi":0.705},{"t":0.7,"m":0.66,"lo":0.64,"hi":0.68},{"t":0.84,"m":0.59,"lo":0.57,"hi":0.61},{"t":0.94,"m":0.56,"lo":0.54,"hi":0.58},{"t":1.03,"m":0.516,"lo":0.49,"hi":0.54},{"t":1.1,"m":0.505,"lo":0.46,"hi":0.55},{"t":1.19,"m":0.51,"lo":0.38,"hi":0.64},{"t":1.27,"m":0.48,"lo":0.27,"hi":0.67},{"t":1.35,"m":0.455,"lo":0.22,"hi":0.65},{"t":1.42,"m":0.46,"lo":0.27,"hi":0.58},{"t":1.48,"m":0.49,"lo":0.38,"hi":0.55},{"t":1.54,"m":0.51,"lo":0.48,"hi":0.54},{"t":1.66,"m":0.568,"lo":0.55,"hi":0.59},{"t":1.85,"m":0.825,"lo":0.805,"hi":0.845},{"t":2.05,"m":0.883,"lo":0.863,"hi":0.91},{"t":2.16,"m":0.866,"lo":0.845,"hi":0.89},{"t":2.3,"m":0.7,"lo":0.68,"hi":0.72},{"t":2.44,"m":0.55,"lo":0.525,"hi":0.575},{"t":2.58,"m":0.64,"lo":0.62,"hi":0.66},{"t":2.75,"m":0.7,"lo":0.68,"hi":0.72},{"t":2.98,"m":0.848,"lo":0.828,"hi":0.868},{"t":3.2,"m":0.627,"lo":0.607,"hi":0.647},{"t":3.35,"m":0.59,"lo":0.57,"hi":0.61},{"t":3.48,"m":0.545,"lo":0.52,"hi":0.57},{"t":3.62,"m":0.61,"lo":0.59,"hi":0.63},{"t":3.75,"m":0.67,"lo":0.65,"hi":0.69},{"t":3.87,"m":0.638,"lo":0.618,"hi":0.658},{"t":4.0,"m":0.75,"lo":0.73,"hi":0.77},{"t":4.14,"m":0.872,"lo":0.852,"hi":0.892},{"t":4.25,"m":0.8,"lo":0.78,"hi":0.82},{"t":4.37,"m":0.7,"lo":0.68,"hi":0.72},{"t":4.61,"m":0.533,"lo":0.51,"hi":0.555},{"t":4.8,"m":0.615,"lo":0.59,"hi":0.64},{"t":5.0,"m":0.48,"lo":0.45,"hi":0.51},{"t":5.2,"m":0.6,"lo":0.58,"hi":0.62},{"t":5.39,"m":0.714,"lo":0.694,"hi":0.734},{"t":5.62,"m":0.516,"lo":0.49,"hi":0.54},{"t":5.74,"m":0.592,"lo":0.57,"hi":0.615},{"t":5.88,"m":0.58,"lo":0.555,"hi":0.605},{"t":6.02,"m":0.568,"lo":0.545,"hi":0.59},{"t":6.21,"m":0.463,"lo":0.43,"hi":0.495},{"t":6.45,"m":0.55,"lo":0.52,"hi":0.58}],
"p4":[{"t":0.01,"v":0.56},{"t":0.02,"v":0.63},{"t":0.03,"v":0.54},{"t":0.04,"v":0.66},{"t":0.05,"v":0.7},{"t":0.06,"v":0.62},{"t":0.07,"v":0.68},{"t":0.08,"v":0.73},{"t":0.09,"v":0.65},{"t":0.1,"v":0.71},{"t":0.11,"v":0.67},{"t":0.12,"v":0.76},{"t":0.13,"v":0.64},{"t":0.14,"v":0.7},{"t":0.15,"v":0.68},{"t":0.16,"v":0.74},{"t":0.17,"v":0.66},{"t":0.18,"v":0.72},{"t":0.19,"v":0.69},{"t":0.2,"v":0.75},{"t":0.21,"v":0.71},{"t":0.22,"v":0.73},{"t":0.23,"v":0.67},{"t":0.24,"v":0.7},{"t":0.25,"v":0.66},{"t":0.26,"v":0.72},{"t":0.27,"v":0.62},{"t":0.28,"v":0.68},{"t":0.29,"v":0.64},{"t":0.38,"v":0.6},{"t":0.39,"v":0.63},{"t":0.4,"v":0.5},{"t":0.41,"v":0.66},{"t":0.42,"v":0.58},{"t":0.43,"v":0.64},{"t":0.44,"v":0.62},{"t":0.45,"v":0.68},{"t":0.46,"v":0.66},{"t":0.47,"v":0.71},{"t":0.48,"v":0.65},{"t":0.49,"v":0.74},{"t":0.5,"v":0.7},{"t":0.51,"v":0.77},{"t":0.52,"v":0.72},{"t":0.53,"v":0.78},{"t":0.54,"v":0.75},{"t":0.55,"v":0.8},{"t":0.56,"v":0.73},{"t":0.57,"v":0.76},{"t":0.58,"v":0.83},{"t":0.59,"v":0.74},{"t":0.6,"v":0.78},{"t":0.61,"v":0.72},{"t":0.75,"v":0.57},{"t":0.76,"v":0.62},{"t":0.77,"v":0.52},{"t":0.78,"v":0.6},{"t":0.79,"v":0.58},{"t":0.8,"v":0.65},{"t":0.81,"v":0.62},{"t":0.82,"v":0.7},{"t":0.84,"v":0.74},{"t":0.86,"v":0.78},{"t":0.88,"v":0.8},{"t":0.9,"v":0.83},{"t":0.92,"v":0.84},{"t":0.94,"v":0.86},{"t":0.96,"v":0.85},{"t":0.98,"v":0.88},{"t":1.0,"v":0.86},{"t":1.02,"v":0.89},{"t":1.04,"v":0.85},{"t":1.06,"v":0.9},{"t":1.08,"v":0.87},{"t":1.1,"v":0.88},{"t":1.12,"v":0.84},{"t":1.14,"v":0.89},{"t":1.16,"v":0.86},{"t":1.18,"v":0.9},{"t":1.2,"v":0.87},{"t":1.22,"v":0.85},{"t":1.24,"v":0.89},{"t":1.26,"v":0.86},{"t":1.28,"v":0.88},{"t":1.3,"v":0.84},{"t":1.32,"v":0.89},{"t":1.34,"v":0.86},{"t":1.36,"v":0.82},{"t":1.38,"v":0.78},{"t":1.4,"v":0.72},{"t":1.42,"v":0.66},{"t":1.44,"v":0.61},{"t":1.46,"v":0.56},{"t":1.48,"v":0.52},{"t":1.5,"v":0.49},{"t":1.52,"v":0.44},{"t":1.54,"v":0.4},{"t":1.56,"v":0.48},{"t":1.58,"v":0.42},{"t":1.6,"v":0.52},{"t":1.62,"v":0.46},{"t":1.64,"v":0.55},{"t":1.66,"v":0.43},{"t":1.68,"v":0.5},{"t":1.7,"v":0.47},{"t":1.72,"v":0.54},{"t":1.74,"v":0.41},{"t":1.76,"v":0.49},{"t":1.78,"v":0.56},{"t":1.8,"v":0.45},{"t":1.82,"v":0.58},{"t":1.87,"v":0.32},{"t":1.89,"v":0.3},{"t":2.56,"v":0.46},{"t":2.58,"v":0.52},{"t":2.6,"v":0.56},{"t":2.62,"v":0.5},{"t":2.64,"v":0.58},{"t":2.66,"v":0.54},{"t":2.68,"v":0.6},{"t":2.7,"v":0.56},{"t":2.72,"v":0.62},{"t":2.74,"v":0.58},{"t":2.76,"v":0.66},{"t":2.78,"v":0.6},{"t":2.8,"v":0.64},{"t":2.82,"v":0.62},{"t":2.84,"v":0.68},{"t":2.86,"v":0.6},{"t":2.88,"v":0.7},{"t":2.9,"v":0.66},{"t":2.92,"v":0.74},{"t":2.94,"v":0.7},{"t":2.96,"v":0.77},{"t":2.98,"v":0.73},{"t":3.0,"v":0.79},{"t":3.02,"v":0.74},{"t":3.04,"v":0.78},{"t":3.06,"v":0.71},{"t":3.08,"v":0.8},{"t":3.1,"v":0.75},{"t":3.12,"v":0.77},{"t":3.14,"v":0.72},{"t":3.16,"v":0.79},{"t":3.18,"v":0.74},{"t":3.2,"v":0.85},{"t":3.22,"v":0.76},{"t":3.24,"v":0.8},{"t":3.26,"v":0.71},{"t":3.28,"v":0.78},{"t":3.3,"v":0.75},{"t":3.33,"v":0.82},{"t":3.36,"v":0.7},{"t":3.39,"v":0.76},{"t":3.42,"v":0.66},{"t":3.45,"v":0.72},{"t":3.48,"v":0.6},{"t":3.51,"v":0.64},{"t":3.54,"v":0.55},{"t":3.57,"v":0.52},{"t":3.6,"v":0.4},{"t":3.62,"v":0.38},{"t":3.64,"v":0.35},{"t":3.66,"v":0.33},{"t":3.68,"v":0.45},{"t":3.7,"v":0.48},{"t":3.72,"v":0.52},{"t":3.74,"v":0.56},{"t":3.76,"v":0.5},{"t":3.78,"v":0.6},{"t":3.8,"v":0.55},{"t":3.82,"v":0.64},{"t":3.84,"v":0.58},{"t":3.86,"v":0.9},{"t":3.88,"v":0.62},{"t":3.9,"v":0.66},{"t":3.92,"v":0.72},{"t":3.94,"v":0.6},{"t":3.96,"v":0.68},{"t":3.98,"v":0.76},{"t":4.0,"v":0.7},{"t":4.02,"v":0.64},{"t":4.04,"v":0.77},{"t":4.06,"v":0.68},{"t":4.08,"v":0.62},{"t":4.11,"v":0.55},{"t":4.14,"v":0.72},{"t":4.17,"v":0.52},{"t":4.2,"v":0.58},{"t":4.23,"v":0.49},{"t":4.26,"v":0.62},{"t":4.29,"v":0.56},{"t":4.32,"v":0.44},{"t":4.35,"v":0.6},{"t":4.38,"v":0.53},{"t":4.41,"v":0.68},{"t":4.44,"v":0.5},{"t":4.47,"v":0.57},{"t":4.5,"v":0.4},{"t":4.53,"v":0.62},{"t":4.56,"v":0.52},{"t":4.59,"v":0.7},{"t":4.62,"v":0.48},{"t":4.65,"v":0.58},{"t":4.68,"v":0.37},{"t":4.71,"v":0.55},{"t":4.74,"v":0.5},{"t":4.77,"v":0.64},{"t":4.8,"v":0.46},{"t":4.83,"v":0.56},{"t":4.86,"v":0.39},{"t":4.89,"v":0.52},{"t":4.92,"v":0.6},{"t":4.95,"v":0.48},{"t":4.98,"v":0.66},{"t":5.01,"v":0.56},{"t":5.04,"v":0.72},{"t":5.07,"v":0.62},{"t":5.1,"v":0.82},{"t":5.13,"v":0.66},{"t":5.16,"v":0.58},{"t":5.19,"v":0.7},{"t":5.22,"v":0.64},{"t":5.25,"v":0.49},{"t":5.28,"v":0.68},{"t":5.31,"v":0.74},{"t":5.34,"v":0.66},{"t":5.37,"v":0.8},{"t":5.4,"v":0.76},{"t":5.43,"v":0.83},{"t":5.46,"v":0.74},{"t":5.49,"v":0.82},{"t":5.52,"v":0.7},{"t":5.55,"v":0.64},{"t":5.58,"v":0.78},{"t":5.61,"v":0.62},{"t":5.64,"v":0.56},{"t":5.67,"v":0.84},{"t":5.7,"v":0.66},{"t":5.73,"v":0.6},{"t":5.76,"v":0.72},{"t":5.79,"v":0.55},{"t":5.82,"v":0.68},{"t":5.85,"v":0.77},{"t":5.88,"v":0.62},{"t":5.91,"v":0.73},{"t":5.94,"v":0.66},{"t":5.97,"v":0.79},{"t":6.0,"v":0.7},{"t":6.03,"v":0.6},{"t":6.06,"v":0.74},{"t":6.09,"v":0.52},{"t":6.12,"v":0.66},{"t":6.15,"v":0.47},{"t":6.18,"v":0.6},{"t":6.21,"v":0.41},{"t":6.24,"v":0.57},{"t":6.27,"v":0.66},{"t":6.3,"v":0.76},{"t":6.33,"v":0.62},{"t":6.36,"v":0.7},{"t":6.39,"v":0.58},{"t":6.42,"v":0.42},{"t":6.45,"v":0.52},{"t":6.48,"v":0.46},{"t":6.51,"v":0.6},{"t":6.54,"v":0.5},{"t":6.57,"v":0.45},{"t":6.6,"v":0.58},{"t":6.63,"v":0.55},{"t":6.66,"v":0.62},{"t":6.69,"v":0.48},{"t":6.72,"v":0.57},{"t":6.75,"v":0.64},{"t":4.1,"v":0.66},{"t":4.16,"v":0.6},{"t":4.22,"v":0.55},{"t":4.28,"v":0.52},{"t":4.34,"v":0.58},{"t":4.4,"v":0.55},{"t":4.46,"v":0.53},{"t":4.52,"v":0.48},{"t":4.58,"v":0.56},{"t":4.64,"v":0.54},{"t":4.7,"v":0.45},{"t":4.76,"v":0.52},{"t":4.82,"v":0.5},{"t":4.88,"v":0.58},{"t":4.94,"v":0.55},{"t":5.0,"v":0.62},{"t":5.06,"v":0.65},{"t":5.12,"v":0.6},{"t":5.18,"v":0.62},{"t":5.24,"v":0.7},{"t":5.3,"v":0.62},{"t":5.36,"v":0.72},{"t":5.42,"v":0.77},{"t":5.48,"v":0.7},{"t":5.54,"v":0.73},{"t":5.6,"v":0.68},{"t":5.66,"v":0.64},{"t":5.72,"v":0.7},{"t":5.78,"v":0.66},{"t":5.84,"v":0.7},{"t":5.9,"v":0.68},{"t":5.96,"v":0.72},{"t":6.02,"v":0.67},{"t":6.08,"v":0.64},{"t":6.14,"v":0.62},{"t":6.2,"v":0.58},{"t":6.26,"v":0.6},{"t":6.32,"v":0.68},{"t":6.38,"v":0.64},{"t":6.44,"v":0.6},{"t":6.5,"v":0.56},{"t":6.56,"v":0.52},{"t":6.62,"v":0.6},{"t":6.68,"v":0.58},{"t":6.74,"v":0.6}],
"c4":[{"t":0.0,"m":0.63,"lo":0.6,"hi":0.66},{"t":0.02,"m":0.656,"lo":0.63,"hi":0.68},{"t":0.15,"m":0.685,"lo":0.665,"hi":0.705},{"t":0.25,"m":0.697,"lo":0.677,"hi":0.717},{"t":0.38,"m":0.638,"lo":0.618,"hi":0.658},{"t":0.47,"m":0.656,"lo":0.636,"hi":0.676},{"t":0.6,"m":0.743,"lo":0.723,"hi":0.763},{"t":0.79,"m":0.627,"lo":0.607,"hi":0.647},{"t":0.97,"m":0.848,"lo":0.828,"hi":0.868},{"t":1.09,"m":0.86,"lo":0.84,"hi":0.88},{"t":1.2,"m":0.855,"lo":0.835,"hi":0.875},{"t":1.33,"m":0.86,"lo":0.84,"hi":0.88},{"t":1.46,"m":0.615,"lo":0.595,"hi":0.635},{"t":1.56,"m":0.487,"lo":0.467,"hi":0.507},{"t":1.66,"m":0.475,"lo":0.455,"hi":0.495},{"t":1.78,"m":0.455,"lo":0.43,"hi":0.48},{"t":1.87,"m":0.446,"lo":0.4,"hi":0.49},{"t":1.95,"m":0.455,"lo":0.3,"hi":0.58},{"t":2.03,"m":0.458,"lo":0.24,"hi":0.68},{"t":2.1,"m":0.44,"lo":0.22,"hi":0.74},{"t":2.19,"m":0.417,"lo":0.22,"hi":0.76},{"t":2.28,"m":0.39,"lo":0.22,"hi":0.74},{"t":2.36,"m":0.376,"lo":0.22,"hi":0.66},{"t":2.44,"m":0.4,"lo":0.24,"hi":0.58},{"t":2.52,"m":0.43,"lo":0.3,"hi":0.52},{"t":2.6,"m":0.5,"lo":0.47,"hi":0.53},{"t":2.69,"m":0.568,"lo":0.548,"hi":0.588},{"t":2.85,"m":0.638,"lo":0.618,"hi":0.658},{"t":3.01,"m":0.76,"lo":0.74,"hi":0.78},{"t":3.22,"m":0.772,"lo":0.752,"hi":0.792},{"t":3.33,"m":0.74,"lo":0.72,"hi":0.76},{"t":3.49,"m":0.6,"lo":0.58,"hi":0.62},{"t":3.64,"m":0.434,"lo":0.41,"hi":0.46},{"t":3.8,"m":0.56,"lo":0.54,"hi":0.58},{"t":4.07,"m":0.68,"lo":0.66,"hi":0.7},{"t":4.23,"m":0.54,"lo":0.52,"hi":0.56},{"t":4.39,"m":0.557,"lo":0.537,"hi":0.577},{"t":4.51,"m":0.533,"lo":0.513,"hi":0.553},{"t":4.64,"m":0.551,"lo":0.531,"hi":0.571},{"t":4.8,"m":0.51,"lo":0.49,"hi":0.53},{"t":5.05,"m":0.668,"lo":0.645,"hi":0.69},{"t":5.17,"m":0.638,"lo":0.615,"hi":0.66},{"t":5.41,"m":0.773,"lo":0.75,"hi":0.795},{"t":5.58,"m":0.685,"lo":0.66,"hi":0.71},{"t":5.7,"m":0.656,"lo":0.63,"hi":0.68},{"t":5.99,"m":0.708,"lo":0.685,"hi":0.73},{"t":6.11,"m":0.656,"lo":0.63,"hi":0.68},{"t":6.23,"m":0.603,"lo":0.58,"hi":0.625},{"t":6.4,"m":0.656,"lo":0.63,"hi":0.68},{"t":6.56,"m":0.545,"lo":0.52,"hi":0.57},{"t":6.75,"m":0.598,"lo":0.57,"hi":0.65}]
},
"columns":2,
"spacing":{"row":115.3,"column":82},
"bounds":"flush",
"concat":[
{"width":296,"height":208,"title":{"text":"Subject\u00a0\u00a01\u00a0\u00a0Baseline visit"},"layer":[
{"data":{"name":"c1"},"mark":{"type":"area","color":"#bebebe","clip":true,"interpolate":"monotone"},"encoding":{"x":{"field":"t","type":"quantitative","title":"Time (hours)","scale":{"domain":[-0.3,8.01],"nice":false,"zero":false},"axis":{"values":[0,2,4,6,8]}},"y":{"field":"lo","type":"quantitative","title":"Normalized δ power","scale":{"domain":[0.272,1.0],"nice":false,"zero":false},"axis":{"values":[0.3,0.4,0.5,0.6,0.7,0.8,0.9,1.0],"format":".1f","labelExpr":"indexof(['0.3','0.5','0.7','0.9'], datum.label) >= 0 ? datum.label : ''"}},"y2":{"field":"hi"}}},
{"data":{"name":"p1"},"mark":{"type":"circle","size":14,"color":"#000","opacity":1},"encoding":{"x":{"field":"t","type":"quantitative","title":"Time (hours)"},"y":{"field":"v","type":"quantitative","title":"Normalized δ power"}}},
{"data":{"name":"c1"},"mark":{"type":"line","color":"#000","strokeWidth":3.5,"interpolate":"monotone"},"encoding":{"x":{"field":"t","type":"quantitative","title":"Time (hours)"},"y":{"field":"m","type":"quantitative","title":"Normalized δ power"}}},
{"data":{"name":"p1"},"mark":{"type":"rule","color":"#000","strokeWidth":1.6},"encoding":{"x":{"field":"t","type":"quantitative","title":"Time (hours)"},"y":{"datum":0.272,"title":"Normalized δ power"},"y2":{"datum":0.294}}}
]},
{"width":286.6,"height":208,"title":{"text":"Subject\u00a0\u00a01\u00a0\u00a0Visit\u00a0\u00a02"},"layer":[
{"data":{"name":"c2"},"mark":{"type":"area","color":"#bebebe","clip":true,"interpolate":"monotone"},"encoding":{"x":{"field":"t","type":"quantitative","title":"Time (hours)","scale":{"domain":[-0.338,8.48],"nice":false,"zero":false},"axis":{"values":[0,2,4,6,8]}},"y":{"field":"lo","type":"quantitative","title":"Normalized δ power","scale":{"domain":[0.272,1.0],"nice":false,"zero":false},"axis":{"values":[0.3,0.4,0.5,0.6,0.7,0.8,0.9,1.0],"format":".1f","labelExpr":"indexof(['0.3','0.5','0.7','0.9'], datum.label) >= 0 ? datum.label : ''"}},"y2":{"field":"hi"}}},
{"data":{"name":"p2"},"mark":{"type":"circle","size":14,"color":"#000","opacity":1},"encoding":{"x":{"field":"t","type":"quantitative","title":"Time (hours)"},"y":{"field":"v","type":"quantitative","title":"Normalized δ power"}}},
{"data":{"name":"c2"},"mark":{"type":"line","color":"#000","strokeWidth":3.5,"interpolate":"monotone"},"encoding":{"x":{"field":"t","type":"quantitative","title":"Time (hours)"},"y":{"field":"m","type":"quantitative","title":"Normalized δ power"}}},
{"data":{"name":"p2"},"mark":{"type":"rule","color":"#000","strokeWidth":1.6},"encoding":{"x":{"field":"t","type":"quantitative","title":"Time (hours)"},"y":{"datum":0.272,"title":"Normalized δ power"},"y2":{"datum":0.294}}}
]},
{"width":296,"height":208,"title":{"text":"Subject\u00a0\u00a02\u00a0\u00a0Baseline visit"},"layer":[
{"data":{"name":"c3"},"mark":{"type":"area","color":"#bebebe","clip":true,"interpolate":"monotone"},"encoding":{"x":{"field":"t","type":"quantitative","title":"Time (hours)","scale":{"domain":[-0.234,6.7],"nice":false,"zero":false},"axis":{"values":[0,1,2,3,4,5,6],"labelPadding":21,"titleY":54.5}},"y":{"field":"lo","type":"quantitative","title":"Normalized δ power","scale":{"domain":[0.272,1.0],"nice":false,"zero":false},"axis":{"values":[0.3,0.4,0.5,0.6,0.7,0.8,0.9,1.0],"format":".1f","labelExpr":"indexof(['0.3','0.5','0.7','0.9'], datum.label) >= 0 ? datum.label : ''"}},"y2":{"field":"hi"}}},
{"data":{"name":"p3"},"mark":{"type":"circle","size":14,"color":"#000","opacity":1},"encoding":{"x":{"field":"t","type":"quantitative","title":"Time (hours)"},"y":{"field":"v","type":"quantitative","title":"Normalized δ power"}}},
{"data":{"name":"c3"},"mark":{"type":"line","color":"#000","strokeWidth":3.5,"interpolate":"monotone"},"encoding":{"x":{"field":"t","type":"quantitative","title":"Time (hours)"},"y":{"field":"m","type":"quantitative","title":"Normalized δ power"}}},
{"data":{"name":"p3"},"mark":{"type":"rule","color":"#000","strokeWidth":1.6},"encoding":{"x":{"field":"t","type":"quantitative","title":"Time (hours)"},"y":{"datum":0.272,"title":"Normalized δ power"},"y2":{"datum":0.294}}}
]},
{"width":293,"height":208,"title":{"text":"Subject\u00a0\u00a02\u00a0\u00a0Visit\u00a0\u00a02"},"layer":[
{"data":{"name":"c4"},"mark":{"type":"area","color":"#bebebe","clip":true,"interpolate":"monotone"},"encoding":{"x":{"field":"t","type":"quantitative","title":"Time (hours)","scale":{"domain":[-0.231,7.0],"nice":false,"zero":false},"axis":{"values":[0,1,2,3,4,5,6,7],"labelPadding":21,"titleY":54.5}},"y":{"field":"lo","type":"quantitative","title":"Normalized δ power","scale":{"domain":[0.272,1.0],"nice":false,"zero":false},"axis":{"values":[0.3,0.4,0.5,0.6,0.7,0.8,0.9,1.0],"format":".1f","labelExpr":"indexof(['0.3','0.5','0.7','0.9'], datum.label) >= 0 ? datum.label : ''"}},"y2":{"field":"hi"}}},
{"data":{"name":"p4"},"mark":{"type":"circle","size":14,"color":"#000","opacity":1},"encoding":{"x":{"field":"t","type":"quantitative","title":"Time (hours)"},"y":{"field":"v","type":"quantitative","title":"Normalized δ power"}}},
{"data":{"name":"c4"},"mark":{"type":"line","color":"#000","strokeWidth":3.5,"interpolate":"monotone"},"encoding":{"x":{"field":"t","type":"quantitative","title":"Time (hours)"},"y":{"field":"m","type":"quantitative","title":"Normalized δ power"}}},
{"data":{"name":"p4"},"mark":{"type":"rule","color":"#000","strokeWidth":1.6},"encoding":{"x":{"field":"t","type":"quantitative","title":"Time (hours)"},"y":{"datum":0.272,"title":"Normalized δ power"},"y2":{"datum":0.294}}}
]}
]
}
